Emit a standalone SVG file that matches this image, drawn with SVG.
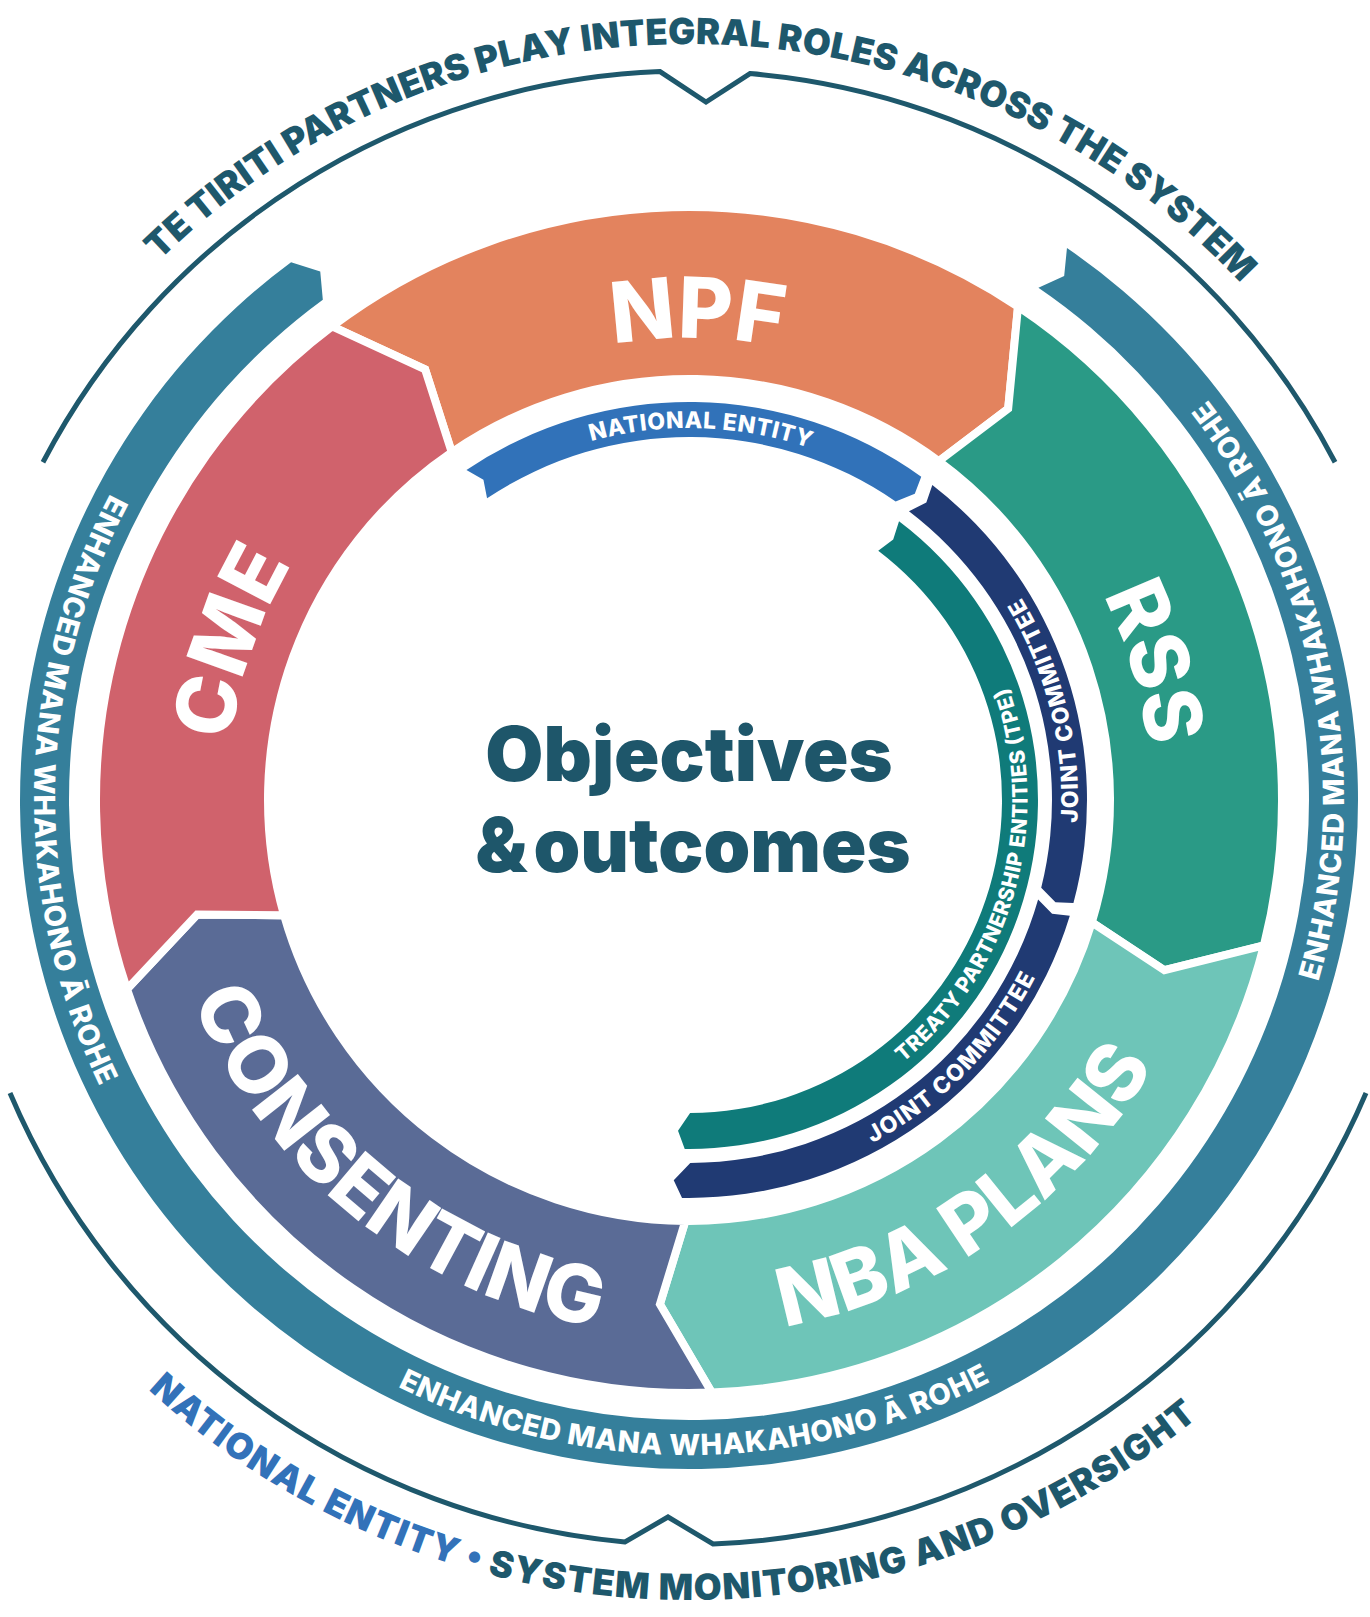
<svg xmlns="http://www.w3.org/2000/svg" width="1370" height="1617" viewBox="0 0 1370 1617">
<style>
.seg{stroke:#fff;stroke-width:8;stroke-linejoin:miter}
.lbl{font-family:Inter,"Liberation Sans",sans-serif;font-weight:800;fill:#fff}
.bt{font-family:Inter,"Liberation Sans",sans-serif;font-weight:800;fill:#fff}
.outer{font-family:Inter,"Liberation Sans",sans-serif;font-weight:900;font-size:36px;fill:#1E586C}
.bracket{fill:none;stroke:#1E586C;stroke-width:5;stroke-linejoin:miter}
.center{font-family:Inter,"Liberation Sans",sans-serif;font-weight:900;font-size:75px;fill:#1E566A}
</style>
<defs>
<path id="pTop" d="M 120.18,302.03 A 756 756 0 0 1 1278.18,326.29"/>
<path id="pBot" d="M 99.18,1340.47 A 800 800 0 0 0 1249.73,1370.6"/>
<path id="pBandL" d="M 159.09,415.0 A 655 655 0 0 0 145.98,1166.27"/>
<path id="pBandB" d="M 318.0,1339.8 A 655 655 0 0 0 1069.36,1333.25"/>
<path id="pBandR" d="M 1286.44,1068.50 A 655 655 0 0 0 1145.65,330.42"/>
<path id="pNPF" d="M 538.59,363.17 A 462 462 0 0 1 854.57,368.69"/>
<path id="pRSS" d="M 1060.38,525.19 A 462 462 0 0 1 1150.14,828.21"/>
<path id="pCME" d="M 227.07,808.06 A 462 462 0 0 1 329.96,509.25"/>
<path id="pNBA" d="M 691.33,1334.99 A 535 535 0 0 0 1192.53,980.79"/>
<path id="pCON" d="M 163.83,902.08 A 535 535 0 0 0 698.34,1334.92"/>
<path id="pNE" d="M 542.75,457.95 A 372 372 0 0 1 857.02,468.11"/>
<path id="pJC1" d="M 1070.85,874.23 A 389 389 0 0 0 991.31,555.19"/>
<path id="pJC2" d="M 825.23,1164.36 A 389 389 0 0 0 1055.69,929.85"/>
<path id="pTPE" d="M 870.10,1085.98 A 338.5 338.5 0 0 0 992.33,649.76"/>
</defs>
<rect width="1370" height="1617" fill="#fff"/>

<g id="outer-frame">
<path class="bracket" d="M 42.96,462.25 A 729 729 0 0 1 660,71.6 L 706,102 L 750,73.6 A 729 729 0 0 1 1335.04,462.25"/>
<path class="bracket" d="M 10,1093 A 742 742 0 0 0 625,1542 L 668,1517 L 713,1544 A 742 742 0 0 0 1366,1093"/>
<text class="outer"><textPath href="#pTop" startOffset="50%" text-anchor="middle" textLength="1205" lengthAdjust="spacing">TE TIRITI PARTNERS PLAY INTEGRAL ROLES ACROSS THE SYSTEM</textPath></text>
<text class="outer"><textPath href="#pBot" startOffset="50%" text-anchor="middle" textLength="1145" lengthAdjust="spacing"><tspan fill="#3272B9">NATIONAL ENTITY •</tspan> SYSTEM MONITORING AND OVERSIGHT</textPath></text>
</g>

<g id="mana-whakahono-band">
<path fill="#357F9B" d="M 1066.97,248.0 A 669 669 0 1 1 291.07,262.22 L 320.25,271.41 L 322.82,299.68 A 620 620 0 1 0 1038.39,287.82 L 1064.18,275.96 Z"/>
<text class="bt" font-size="29"><textPath href="#pBandL" startOffset="50%" text-anchor="middle" textLength="615" lengthAdjust="spacing">ENHANCED MANA WHAKAHONO Ā ROHE</textPath></text>
<text class="bt" font-size="29"><textPath href="#pBandB" startOffset="50%" text-anchor="middle" textLength="615" lengthAdjust="spacing">ENHANCED MANA WHAKAHONO Ā ROHE</textPath></text>
<text class="bt" font-size="29"><textPath href="#pBandR" startOffset="50%" text-anchor="middle" textLength="615" lengthAdjust="spacing">ENHANCED MANA WHAKAHONO Ā ROHE</textPath></text>
</g>

<g id="npf">
<path class="seg" fill="#E3835E" d="M 332.12,326.41 A 593 593 0 0 1 1018.02,306.65 L 1008.18,408.66 L 938.83,461.14 A 421 421 0 0 0 451.75,452.21 L 425.14,369.42 Z"/>
<text class="lbl" font-size="84"><textPath href="#pNPF" startOffset="50%" text-anchor="middle">NPF</textPath></text>
</g>
<g id="rss">
<path class="seg" fill="#2A9A86" d="M 1018.02,306.65 A 593 593 0 0 1 1263.88,945.47 L 1164.44,970.24 L 1091.82,922.38 A 421 421 0 0 0 938.83,461.14 L 1008.18,408.66 Z"/>
<text class="lbl" font-size="80"><textPath href="#pRSS" startOffset="50%" text-anchor="middle">RSS</textPath></text>
</g>
<g id="nba-plans">
<path class="seg" fill="#6EC5B8" d="M 1263.88,945.47 A 593 593 0 0 1 711.77,1392.56 L 659.93,1304.16 L 685.33,1220.98 A 421 421 0 0 0 1091.82,922.38 L 1164.44,970.24 Z"/>
<text class="lbl" font-size="80"><textPath href="#pNBA" startOffset="50%" text-anchor="middle">NBA PLANS</textPath></text>
</g>
<g id="consenting">
<path class="seg" fill="#5A6B96" d="M 711.77,1392.56 A 593 593 0 0 1 126.97,989.14 L 197.14,914.46 L 284.11,915.34 A 421 421 0 0 0 685.33,1220.98 L 659.93,1304.16 Z"/>
<text class="lbl" font-size="80"><textPath href="#pCON" startOffset="50%" text-anchor="middle">CONSENTING</textPath></text>
</g>
<g id="cme">
<path class="seg" fill="#D0626C" d="M 126.97,989.14 A 593 593 0 0 1 332.12,326.41 L 425.14,369.42 L 451.75,452.21 A 421 421 0 0 0 284.11,915.34 L 197.14,914.46 Z"/>
<text class="lbl" font-size="82"><textPath href="#pCME" startOffset="50%" text-anchor="middle">CME</textPath></text>
</g>

<g id="national-entity">
<path fill="#3172B9" d="M 466.44,470.04 A 398 398 0 0 1 921.25,476.79 L 914.80,493.74 L 895.65,501.56 A 363 363 0 0 0 487.06,498.35 L 483.44,479.81 Z"/>
<text class="bt" font-size="23"><textPath href="#pNE" startOffset="50%" text-anchor="middle" textLength="222" lengthAdjust="spacing">NATIONAL ENTITY</textPath></text>
</g>
<g id="joint-committee-1">
<path fill="#203A73" d="M 932.33,485.05 A 398 398 0 0 1 1073.44,903.01 L 1055.48,902.32 L 1041.22,887.82 A 363 363 0 0 0 908.97,511.24 L 926.34,502.60 Z"/>
<text class="bt" font-size="23"><textPath href="#pJC1" startOffset="50%" text-anchor="middle" textLength="236" lengthAdjust="spacing">JOINT COMMITTEE</textPath></text>
</g>
<g id="joint-committee-2">
<path fill="#203A73" d="M 1069.81,915.70 A 398 398 0 0 1 682.05,1197.94 L 673.73,1180.19 L 690.27,1163.0 A 363 363 0 0 0 1038.11,899.45 L 1052.09,913.78 Z"/>
<text class="bt" font-size="23"><textPath href="#pJC2" startOffset="50%" text-anchor="middle" textLength="236" lengthAdjust="spacing">JOINT COMMITTEE</textPath></text>
</g>
<g id="tpe">
<path fill="#0F7B7A" d="M 899.03,521.28 A 349 349 0 0 1 684.74,1148.97 L 678.02,1130.82 L 690.09,1113.0 A 313 313 0 0 0 878.24,550.69 L 893.20,539.50 Z"/>
<text class="bt" font-size="21"><textPath href="#pTPE" startOffset="50%" text-anchor="middle" textLength="415" lengthAdjust="spacing">TREATY PARTNERSHIP ENTITIES (TPE)</textPath></text>
</g>

<g id="objectives">
<text class="center" x="689" y="781" text-anchor="middle">Objectives</text>
<text class="center" x="693" y="872" text-anchor="middle">&amp;<tspan dx="6">outcomes</tspan></text>
</g>
<g id="connectors"></g>
</svg>
